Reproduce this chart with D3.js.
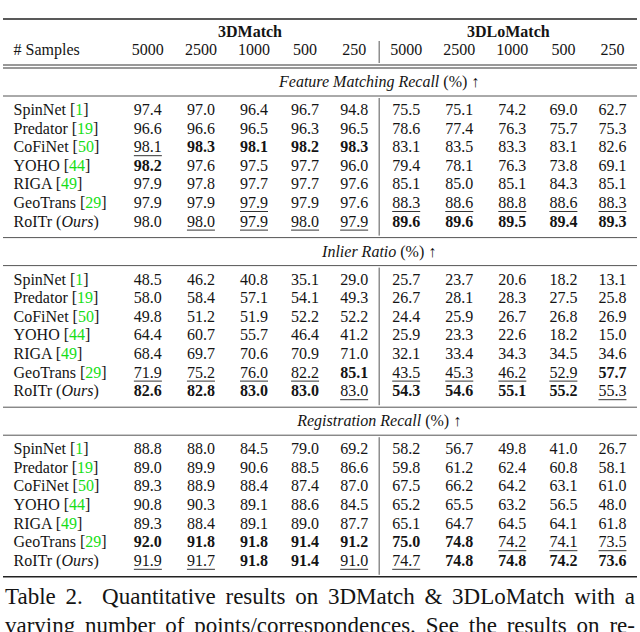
<!DOCTYPE html>
<html>
<head>
<meta charset="utf-8">
<script src="https://cdn.jsdelivr.net/npm/d3@7"></script>
<style>
  html, body { margin: 0; padding: 0; background: #fff; }
  svg { display: block; font-family: "Liberation Serif", "Times New Roman", serif; }
</style>
</head>
<body>
<div id="table"></div>
<script>
const groups = ["3DMatch", "3DLoMatch"];
const samples = ["5000", "2500", "1000", "500", "250"];
const methods = ["SpinNet", "Predator", "CoFiNet", "YOHO", "RIGA", "GeoTrans", "RoITr"];
const refs = ["1", "19", "50", "44", "49", "29", null];
const metrics = ["Feature Matching Recall", "Inlier Ratio", "Registration Recall"];

// each row: 3DMatch 5000..250 then 3DLoMatch 5000..250
const fmrValues = [
    ["97.4", "97.0", "96.4", "96.7", "94.8", "75.5", "75.1", "74.2", "69.0", "62.7"],
    ["96.6", "96.6", "96.5", "96.3", "96.5", "78.6", "77.4", "76.3", "75.7", "75.3"],
    ["98.1", "98.3", "98.1", "98.2", "98.3", "83.1", "83.5", "83.3", "83.1", "82.6"],
    ["98.2", "97.6", "97.5", "97.7", "96.0", "79.4", "78.1", "76.3", "73.8", "69.1"],
    ["97.9", "97.8", "97.7", "97.7", "97.6", "85.1", "85.0", "85.1", "84.3", "85.1"],
    ["97.9", "97.9", "97.9", "97.9", "97.6", "88.3", "88.6", "88.8", "88.6", "88.3"],
    ["98.0", "98.0", "97.9", "98.0", "97.9", "89.6", "89.6", "89.5", "89.4", "89.3"]
];
const irValues = [
    ["48.5", "46.2", "40.8", "35.1", "29.0", "25.7", "23.7", "20.6", "18.2", "13.1"],
    ["58.0", "58.4", "57.1", "54.1", "49.3", "26.7", "28.1", "28.3", "27.5", "25.8"],
    ["49.8", "51.2", "51.9", "52.2", "52.2", "24.4", "25.9", "26.7", "26.8", "26.9"],
    ["64.4", "60.7", "55.7", "46.4", "41.2", "25.9", "23.3", "22.6", "18.2", "15.0"],
    ["68.4", "69.7", "70.6", "70.9", "71.0", "32.1", "33.4", "34.3", "34.5", "34.6"],
    ["71.9", "75.2", "76.0", "82.2", "85.1", "43.5", "45.3", "46.2", "52.9", "57.7"],
    ["82.6", "82.8", "83.0", "83.0", "83.0", "54.3", "54.6", "55.1", "55.2", "55.3"]
];
const rrValues = [
    ["88.8", "88.0", "84.5", "79.0", "69.2", "58.2", "56.7", "49.8", "41.0", "26.7"],
    ["89.0", "89.9", "90.6", "88.5", "86.6", "59.8", "61.2", "62.4", "60.8", "58.1"],
    ["89.3", "88.9", "88.4", "87.4", "87.0", "67.5", "66.2", "64.2", "63.1", "61.0"],
    ["90.8", "90.3", "89.1", "88.6", "84.5", "65.2", "65.5", "63.2", "56.5", "48.0"],
    ["89.3", "88.4", "89.1", "89.0", "87.7", "65.1", "64.7", "64.5", "64.1", "61.8"],
    ["92.0", "91.8", "91.8", "91.4", "91.2", "75.0", "74.8", "74.2", "74.1", "73.5"],
    ["91.9", "91.7", "91.8", "91.4", "91.0", "74.7", "74.8", "74.8", "74.2", "73.6"]
];

// b = best (bold), u = second best (underlined), - = plain
const fmrMarks = ["----------", "----------", "ubbbb-----", "b---------", "----------", "--u--uuuuu", "-uuuubbbbb"];
const irMarks = ["----------", "----------", "----------", "----------", "----------", "uuuubuuuub", "bbbbubbbbu"];
const rrMarks = ["----------", "----------", "----------", "----------", "----------", "bbbbbbbuuu", "uubbuubbbb"];

const captionLines = [
    "Table 2.\u00a0 Quantitative results on 3DMatch & 3DLoMatch with a",
    "varying number of points/correspondences. See the results on re-"
];

document.addEventListener('DOMContentLoaded', function() {
    const width = 640, height = 632;
    const fontSize = 16;
    const colSep = 10.5;
    const ink = "#141414";
    const green = "#16de16";

    const svg = d3.select("#table")
        .append("svg")
        .attr("width", width)
        .attr("height", height);

    function measure(str, weight) {
        const t = svg.append("text")
            .style("font-size", fontSize + "px")
            .style("font-weight", weight || "normal")
            .text(str);
        const w = t.node().getComputedTextLength();
        t.remove();
        return w;
    }

    // column widths the way LaTeX would: widest cell plus padding
    const allValues = fmrValues.concat(irValues, rrValues);
    const labelWidth = d3.max(methods.map((m, i) => measure(refs[i] ? `${m} [${refs[i]}]` : `${m} (Ours)`)).concat([measure("# Samples")]));
    const colWidths = [labelWidth + 2 * colSep + 4];
    for (let j = 0; j < 10; j++) {
        const cellW = d3.max(allValues, r => measure(r[j], "bold"));
        colWidths.push(Math.max(cellW, measure(samples[j % 5])) + 2 * colSep);
    }
    const barW = 1;
    const colStart = [];
    let acc = 0;
    colWidths.forEach((w, j) => {
        colStart.push(acc);
        acc += w;
        if (j === 5) acc += barW;
    });
    const total = acc;
    const x = d3.scaleLinear().domain([0, total]).range([3, 637]);
    const colCenter = j => x(colStart[j] + colWidths[j] / 2);
    const barX = x(colStart[5] + colWidths[5] + barW / 2);

    // vertical layout
    const topRule = 19, groupBase = 37, sampleBase = 55;
    const doubleRule = [65, 68];
    const blockPitch = 169.6;
    const rowStep = 18.6;
    const blocks = [
        {metric: metrics[0], values: fmrValues, marks: fmrMarks},
        {metric: metrics[1], values: irValues, marks: irMarks},
        {metric: metrics[2], values: rrValues, marks: rrMarks}
    ];

    function rule(y, w, color) {
        svg.append("line")
            .attr("x1", 3).attr("x2", 637)
            .attr("y1", y).attr("y2", y)
            .attr("stroke", color)
            .attr("stroke-width", w);
    }

    function vbar(y1, y2) {
        svg.append("line")
            .attr("x1", barX).attr("x2", barX)
            .attr("y1", y1).attr("y2", y2)
            .attr("stroke", "#555")
            .attr("stroke-width", 1);
    }

    rule(topRule, 1.6, "#222");
    rule(doubleRule[0], 1, "#333");
    rule(doubleRule[1], 1, "#333");

    // header
    const spans = [[1, 5], [6, 10]];
    groups.forEach((g, i) => {
        const a = x(colStart[spans[i][0]]);
        const b = x(colStart[spans[i][1]] + colWidths[spans[i][1]]);
        svg.append("text")
            .attr("x", (a + b) / 2)
            .attr("y", groupBase)
            .attr("text-anchor", "middle")
            .style("font-size", fontSize + "px")
            .style("font-weight", "bold")
            .attr("fill", ink)
            .text(g);
    });

    svg.append("text")
        .attr("x", x(colSep))
        .attr("y", sampleBase)
        .style("font-size", fontSize + "px")
        .attr("fill", ink)
        .text("# Samples");

    for (let j = 1; j <= 10; j++) {
        svg.append("text")
            .attr("x", colCenter(j))
            .attr("y", sampleBase)
            .attr("text-anchor", "middle")
            .style("font-size", fontSize + "px")
            .attr("fill", ink)
            .text(samples[(j - 1) % 5]);
    }
    vbar(sampleBase - 14, doubleRule[0] - 2);

    const numLeft = x(colStart[1]);
    const numRight = x(total);

    blocks.forEach((block, k) => {
        const blockTop = doubleRule[1] + k * blockPitch;
        const titleRule = blockTop + 28;
        const firstRow = titleRule + 19;
        const endRule = firstRow + 6 * rowStep + 11;
        const y = d3.scaleLinear().domain([0, methods.length - 1]).range([firstRow, firstRow + 6 * rowStep]);

        const title = svg.append("text")
            .attr("x", (numLeft + numRight) / 2)
            .attr("y", (blockTop + titleRule) / 2 + 5)
            .attr("text-anchor", "middle")
            .style("font-size", fontSize + "px")
            .attr("fill", ink);
        title.append("tspan").style("font-style", "italic").text(block.metric);
        title.append("tspan").text(" (%) \u2191");

        rule(titleRule, 1, "#555");
        rule(endRule, k === blocks.length - 1 ? 1.6 : 1, k === blocks.length - 1 ? "#222" : "#555");
        vbar(titleRule + 2, endRule - 2);

        methods.forEach((m, i) => {
            const label = svg.append("text")
                .attr("x", x(colSep))
                .attr("y", y(i))
                .style("font-size", fontSize + "px")
                .attr("fill", ink);
            if (refs[i]) {
                label.append("tspan").text(m + " [");
                label.append("tspan").attr("fill", green).text(refs[i]);
                label.append("tspan").text("]");
            } else {
                label.append("tspan").text(m + " (");
                label.append("tspan").style("font-style", "italic").text("Ours");
                label.append("tspan").text(")");
            }

            block.values[i].forEach((v, j) => {
                const mark = block.marks[i][j];
                const cx = colCenter(j + 1);
                const t = svg.append("text")
                    .attr("x", cx)
                    .attr("y", y(i))
                    .attr("text-anchor", "middle")
                    .style("font-size", fontSize + "px")
                    .style("font-weight", mark === "b" ? "bold" : "normal")
                    .attr("fill", ink)
                    .text(v);
                if (mark === "u") {
                    const w = t.node().getComputedTextLength();
                    svg.append("line")
                        .attr("x1", cx - w / 2).attr("x2", cx + w / 2)
                        .attr("y1", y(i) + 3.5).attr("y2", y(i) + 3.5)
                        .attr("stroke", "#333")
                        .attr("stroke-width", 1);
                }
            });
        });
    });

    // caption, justified across the column (second line runs off the page as in the source)
    const capSize = 23;
    const capBase = [604, 633];
    captionLines.forEach((line, i) => {
        const t = svg.append("text")
            .attr("x", 5)
            .attr("y", capBase[i])
            .style("font-size", capSize + "px")
            .attr("fill", ink)
            .text(line);
        const natural = t.node().getComputedTextLength();
        const spaces = (line.match(/[ \u00a0]/g) || []).length;
        t.style("word-spacing", ((635 - 5 - natural) / spaces) + "px");
    });
});
</script>
</body>
</html>
